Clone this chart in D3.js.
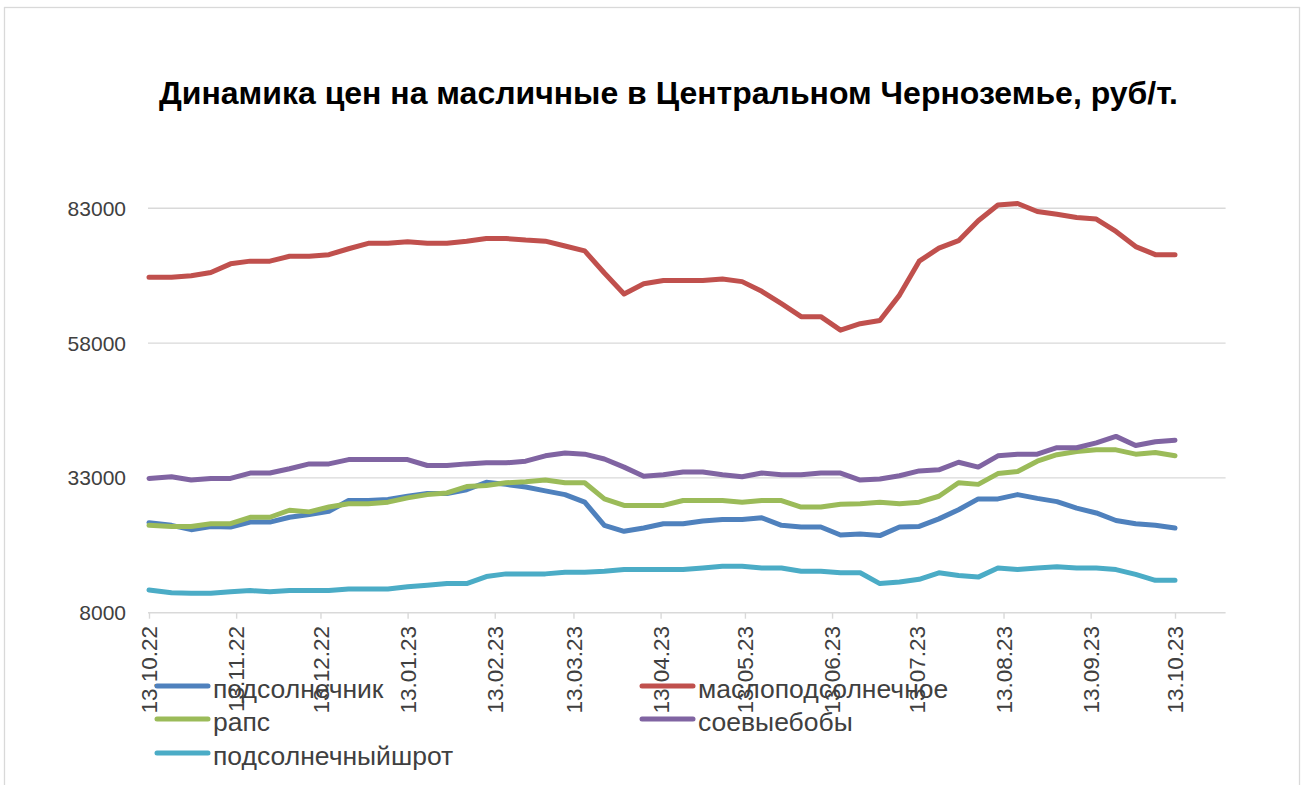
<!DOCTYPE html>
<html>
<head>
<meta charset="utf-8">
<script src="https://cdn.jsdelivr.net/npm/d3@7/dist/d3.min.js"></script>
<style>
  html, body { margin: 0; padding: 0; background: #fff; }
  svg { display: block; font-family: "Liberation Sans", Arial, sans-serif; }
</style>
</head>
<body>
<svg id="chart" width="1301" height="785"></svg>
<script>
const titleText = "Динамика цен на масличные в Центральном Черноземье, руб/т.";

const dates = ["13.10.22","21.10.22","28.10.22","04.11.22","11.11.22","18.11.22","25.11.22",
  "02.12.22","09.12.22","16.12.22","23.12.22","30.12.22","06.01.23","13.01.23","20.01.23","27.01.23",
  "03.02.23","10.02.23","17.02.23","24.02.23","03.03.23","10.03.23","17.03.23","24.03.23","31.03.23",
  "07.04.23","14.04.23","21.04.23","28.04.23","05.05.23","12.05.23","19.05.23","26.05.23",
  "02.06.23","09.06.23","16.06.23","23.06.23","30.06.23","07.07.23","14.07.23","21.07.23","28.07.23",
  "04.08.23","11.08.23","18.08.23","25.08.23","01.09.23","08.09.23","15.09.23","22.09.23","29.09.23",
  "06.10.23","13.10.23"];

const sunflower = [24700,24200,23400,24000,23900,24800,24800,25700,26200,26800,28800,28800,29000,29600,30100,30100,
  30800,32200,31800,31300,30600,29900,28500,24200,23100,23700,24500,24500,25000,25300,25300,25600,24200,23900,23900,
  22400,22600,22300,23900,24000,25400,27100,29100,29100,29900,29200,28600,27400,26500,25100,24500,24200,23700];

const sunOil = [70200,70200,70500,71100,72700,73200,73200,74100,74100,74400,75500,76500,76500,76800,76500,76500,
  76900,77400,77400,77100,76900,76000,75100,71000,67100,69000,69600,69600,69600,69900,69400,67600,65300,62900,62900,
  60400,61600,62200,66900,73200,75600,77000,80700,83600,83900,82400,81900,81300,81000,78700,75900,74400,74400];

const rapeseed = [24200,24000,24000,24500,24500,25700,25700,27000,26700,27600,28200,28200,28500,29300,29900,30200,
  31400,31600,32100,32300,32600,32100,32100,29100,27900,27900,27900,28800,28800,28800,28500,28800,28800,27600,27600,
  28100,28200,28500,28200,28500,29600,32100,31800,33800,34200,36100,37300,37900,38200,38200,37400,37700,37100];

const soybeans = [32900,33200,32600,32900,32900,33900,33900,34700,35600,35600,36400,36400,36400,36400,35300,35300,
  35600,35800,35800,36100,37100,37600,37400,36500,35000,33300,33600,34100,34100,33600,33200,33900,33600,33600,33900,
  33900,32600,32800,33400,34300,34500,35900,35000,37100,37400,37400,38600,38600,39500,40700,39000,39700,40000];

const sunMeal = [12200,11700,11600,11600,11900,12100,11900,12100,12100,12100,12400,12400,12400,12800,13100,13400,
  13400,14700,15200,15200,15200,15500,15500,15700,16000,16000,16000,16000,16300,16600,16600,16300,16300,15700,15700,
  15400,15400,13400,13700,14200,15400,14900,14600,16300,16000,16300,16500,16300,16300,16000,15100,14000,14000];

const seriesNames = ["подсолнечник","маслоподсолнечное","рапс","соевыебобы","подсолнечныйшрот"];
const seriesColors = ["#4f81bd","#c0504d","#9bbb59","#8064a2","#4bacc6"];

const yTicks = [8000, 33000, 58000, 83000];
const xTickLabels = ["13.10.22","13.11.22","13.12.22","13.01.23","13.02.23","13.03.23","13.04.23",
  "13.05.23","13.06.23","13.07.23","13.08.23","13.09.23","13.10.23"];
const axisEndDate = "31.10.23";

const parse = d3.utcParse("%d.%m.%y");
const svg = d3.select("#chart");

// chart border
svg.append("rect").attr("x", 4.5).attr("y", 7.5).attr("width", 1295).attr("height", 790)
  .attr("fill", "#fff").attr("stroke", "#d9d9d9").attr("stroke-width", 1.3);

const x = d3.scaleUtc()
  .domain([parse(dates[0]), parse(axisEndDate)])
  .range([149, 1225.6]);
const y = d3.scaleLinear().domain([8000, 83000]).range([612.7, 208.3]);

// gridlines
svg.append("g").selectAll("line").data(yTicks.slice(1)).join("line")
  .attr("x1", 148).attr("x2", x.range()[1])
  .attr("y1", d => y(d)).attr("y2", d => y(d))
  .attr("stroke", "#d9d9d9").attr("stroke-width", 1.4);

// y axis labels
svg.append("g").selectAll("text").data(yTicks).join("text")
  .attr("x", 126).attr("y", d => y(d)).attr("dy", "0.36em")
  .attr("text-anchor", "end").attr("font-size", 21).attr("fill", "#404040")
  .text(d => d);

// x axis
const xAxis = d3.axisBottom(x)
  .tickValues(xTickLabels.map(parse))
  .tickSize(6).tickFormat("");
const gx = svg.append("g").attr("transform", `translate(0,${y(8000)})`).call(xAxis);
gx.select(".domain").attr("stroke", "#d9d9d9").attr("stroke-width", 1.4)
  .attr("d", `M148,0H${x.range()[1]}`);
gx.selectAll(".tick line").attr("stroke", "#d9d9d9").attr("stroke-width", 1.4);

svg.append("g").selectAll("text").data(xTickLabels).join("text")
  .attr("transform", d => `translate(${x(parse(d))},626) rotate(-90)`)
  .attr("dy", "0.36em").attr("text-anchor", "end")
  .attr("font-size", 22.5).attr("fill", "#404040")
  .text(d => d);

// lines
const allSeries = [sunflower, sunOil, rapeseed, soybeans, sunMeal];
const line = d3.line().x((d, i) => x(parse(dates[i]))).y(d => y(d));
svg.append("g").selectAll("path").data(allSeries).join("path")
  .attr("d", d => line(d))
  .attr("fill", "none")
  .attr("stroke", (d, i) => seriesColors[i])
  .attr("stroke-width", 5)
  .attr("stroke-linejoin", "round")
  .attr("stroke-linecap", "round");

// title
svg.append("text").attr("x", 668.5).attr("y", 104)
  .attr("text-anchor", "middle").attr("font-size", 32).attr("font-weight", "bold")
  .attr("fill", "#000").text(titleText);

// legend
const legendPos = [[155, 688], [640, 688], [155, 721], [640, 721], [155, 755]];
const lg = svg.append("g").selectAll("g").data(seriesNames).join("g")
  .attr("transform", (d, i) => `translate(${legendPos[i][0]},${legendPos[i][1]})`);
lg.append("line").attr("x1", 2).attr("x2", 53).attr("y1", -2).attr("y2", -2)
  .attr("stroke", (d, i) => seriesColors[i]).attr("stroke-width", 5).attr("stroke-linecap", "round");
lg.append("text").attr("x", 58).attr("dy", "0.36em")
  .attr("font-size", 26.5).attr("fill", "#404040").text(d => d);
</script>
</body>
</html>
